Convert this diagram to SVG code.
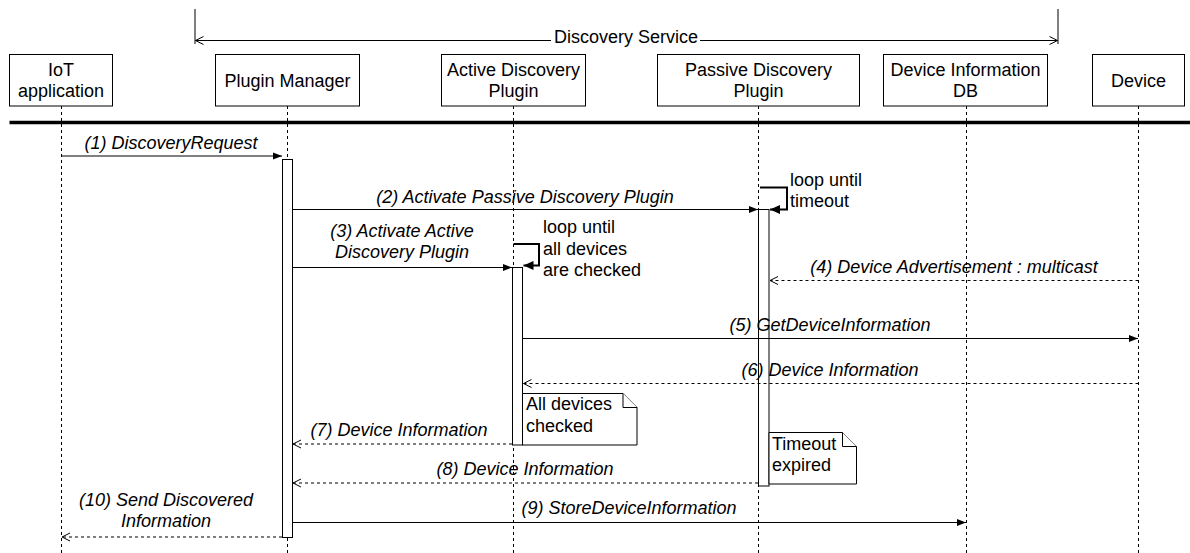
<svg xmlns="http://www.w3.org/2000/svg" width="1190" height="553" viewBox="0 0 1190 553">
  <style>
    text { font-family: "Liberation Sans", Arial, sans-serif; font-size: 18px; fill: #000; }
    .c { text-anchor: middle; }
    .msg { font-style: italic; text-anchor: middle; }
    .head { fill: #fff; stroke: #000; stroke-width: 1; }
    .life { stroke: #000; stroke-width: 1; stroke-dasharray: 3 3; fill: none; }
    .act { fill: #fff; stroke: #000; stroke-width: 1; }
    .call { stroke: #000; stroke-width: 1; fill: none; marker-end: url(#solid); }
    .reply { stroke: #000; stroke-width: 1; fill: none; stroke-dasharray: 3 3; marker-end: url(#open); }
    .loop { stroke: #000; stroke-width: 2; fill: none; marker-end: url(#loophead); }
    .note { fill: #fff; stroke: #000; stroke-width: 1; }
    .span { stroke: #000; stroke-width: 1; fill: none; }
  </style>
  <defs>
    <marker id="solid" markerUnits="userSpaceOnUse" viewBox="-10 -5 12 10" refX="0" refY="0" markerWidth="12" markerHeight="10" orient="auto" overflow="visible">
      <path d="M-9,-3.5 L0,0 L-9,3.5 Z" fill="#000"/>
    </marker>
    <marker id="open" markerUnits="userSpaceOnUse" viewBox="-10 -5 12 10" refX="0" refY="0" markerWidth="12" markerHeight="10" orient="auto" overflow="visible">
      <path d="M-8,-4 L0,0 L-8,4" fill="none" stroke="#000" stroke-width="1"/>
    </marker>
    <marker id="loophead" markerUnits="userSpaceOnUse" viewBox="-12 -6 14 12" refX="0" refY="0" markerWidth="14" markerHeight="12" orient="auto" overflow="visible">
      <path d="M-10,-4.5 L0,0 L-10,4.5 Z" fill="#000"/>
    </marker>
  </defs>

  <!-- service boundary span -->
  <g id="discovery-service">
    <line class="span" x1="195" y1="9" x2="195" y2="44"/>
    <line class="span" x1="1058" y1="9" x2="1058" y2="44"/>
    <path class="span" d="M551,40.5 H195.5" marker-end="url(#open)"/>
    <path class="span" d="M700,40.5 H1057.5" marker-end="url(#open)"/>
    <text class="c" x="626" y="43">Discovery Service</text>
  </g>

  <!-- lifelines -->
  <g id="lifelines">
    <line class="life" x1="61.5" y1="106" x2="61.5" y2="553"/>
    <line class="life" x1="287.5" y1="106" x2="287.5" y2="553"/>
    <line class="life" x1="513.5" y1="106" x2="513.5" y2="553"/>
    <line class="life" x1="758.5" y1="106" x2="758.5" y2="553"/>
    <line class="life" x1="966.5" y1="106" x2="966.5" y2="553"/>
    <line class="life" x1="1138.5" y1="106" x2="1138.5" y2="553"/>
  </g>

  <!-- participants -->
  <g id="iot-application">
    <rect class="head" x="9.5" y="54.5" width="103" height="51.5"/>
    <text class="c" x="61" y="76">IoT</text>
    <text class="c" x="61" y="97">application</text>
  </g>
  <g id="plugin-manager">
    <rect class="head" x="215.5" y="54.5" width="144" height="51.5"/>
    <text class="c" x="287.5" y="87">Plugin Manager</text>
  </g>
  <g id="active-discovery-plugin">
    <rect class="head" x="441.5" y="54.5" width="144" height="51.5"/>
    <text class="c" x="513.5" y="76">Active Discovery</text>
    <text class="c" x="513.5" y="97">Plugin</text>
  </g>
  <g id="passive-discovery-plugin">
    <rect class="head" x="657.5" y="54.5" width="202" height="51.5"/>
    <text class="c" x="758.5" y="76">Passive Discovery</text>
    <text class="c" x="758.5" y="97">Plugin</text>
  </g>
  <g id="device-information-db">
    <rect class="head" x="883.5" y="54.5" width="164" height="51.5"/>
    <text class="c" x="965.5" y="76">Device Information</text>
    <text class="c" x="965.5" y="97">DB</text>
  </g>
  <g id="device">
    <rect class="head" x="1092.5" y="54.5" width="92" height="51.5"/>
    <text class="c" x="1138.5" y="87">Device</text>
  </g>

  <!-- header separator -->
  <line x1="9.5" y1="122.5" x2="1190" y2="122.5" stroke="#000" stroke-width="3.5"/>

  <!-- activation bars -->
  <g id="activations">
    <rect class="act" x="282.5" y="159.5" width="10" height="378"/>
    <rect class="act" x="512.5" y="267.5" width="10" height="177.5"/>
    <rect class="act" x="758.5" y="209.5" width="10.5" height="276.5"/>
  </g>

  <!-- messages -->
  <g id="connectors">
    <path class="call" d="M61.5,156 H282"/>
    <path class="call" d="M292.5,209.5 H758"/>
    <path class="call" d="M292.5,267.5 H512"/>
    <path class="loop" d="M513.5,244 H539 V265.5 H523.5"/>
    <path class="loop" d="M760,187.5 H787 V209.5 H770"/>
    <path class="reply" d="M1138.5,280.5 H770"/>
    <path class="call" d="M523,338.5 H1138"/>
    <path class="reply" d="M1138.5,383.5 H523.5"/>
    <path class="reply" d="M512,444 H293"/>
    <path class="reply" d="M758,483 H293"/>
    <path class="call" d="M292.5,522.5 H966"/>
    <path class="reply" d="M282,537 H62"/>
  </g>

  <!-- message labels -->
  <g id="labels">
    <text class="msg" x="171" y="149">(1) DiscoveryRequest</text>
    <text class="msg" x="525" y="203">(2) Activate Passive Discovery Plugin</text>
    <text class="msg" x="402" y="237">(3) Activate Active</text>
    <text class="msg" x="402" y="258">Discovery Plugin</text>
    <text class="msg" x="954" y="273">(4) Device Advertisement : multicast</text>
    <text class="msg" x="830" y="331">(5) GetDeviceInformation</text>
    <text class="msg" x="830" y="376">(6) Device Information</text>
    <text class="msg" x="399" y="436">(7) Device Information</text>
    <text class="msg" x="525" y="475">(8) Device Information</text>
    <text class="msg" x="629" y="514">(9) StoreDeviceInformation</text>
    <text class="msg" x="166" y="506">(10) Send Discovered</text>
    <text class="msg" x="166" y="527">Information</text>
  </g>

  <!-- loop captions -->
  <g id="loop-active">
    <text x="543" y="233">loop until</text>
    <text x="543" y="255">all devices</text>
    <text x="543" y="276">are checked</text>
  </g>
  <g id="loop-passive">
    <text x="790" y="186">loop until</text>
    <text x="790" y="207">timeout</text>
  </g>

  <!-- notes -->
  <g id="note-all-devices-checked">
    <path class="note" d="M522.5,393.5 H623 L637,407.5 V445 H522.5 Z"/>
    <path class="note" d="M623,393.5 V407.5 H637"/>
    <text x="526" y="410">All devices</text>
    <text x="526" y="431.5">checked</text>
  </g>
  <g id="note-timeout-expired">
    <path class="note" d="M769,432.5 H842.5 L856.5,446.5 V484 H769 Z"/>
    <path class="note" d="M842.5,432.5 V446.5 H856.5"/>
    <text x="772" y="450">Timeout</text>
    <text x="772" y="471">expired</text>
  </g>
</svg>
